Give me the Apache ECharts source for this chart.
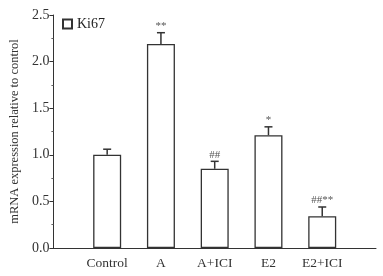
<!DOCTYPE html>
<html>
<head>
<meta charset="utf-8">
<script src="https://cdn.jsdelivr.net/npm/echarts@6/dist/echarts.min.js"></script>
<style>
html,body{margin:0;padding:0;background:#fff;}
#chart{width:383px;height:276px;}
</style>
</head>
<body>
<div id="chart"></div>
<script>
// categories (empty slots at each end keep the bars off the axis ends)
var categories=['','Control','A','A+ICI','E2','E2+ICI',''];
var ki67Values=[null,1.00,2.19,0.85,1.21,0.34,null];
var ki67Errors=[null,0.06,0.12,0.08,0.09,0.10,null];
var sigMarks=['','','**','##','*','##**',''];
var yTicks=[0,0.5,1.0,1.5,2.0,2.5];

var serif='"Liberation Serif","DejaVu Serif",serif';

var errData=[];
for(var i=0;i<categories.length;i++)
{
	if(ki67Values[i]!=null)
	{
		errData.push([i,ki67Values[i],ki67Errors[i],sigMarks[i]]);
	}
}

var myChart=echarts.init(document.getElementById('chart'));
var option={
	backgroundColor:'#ffffff',
	animation:false,
	grid:{left:47,right:7,top:15,bottom:28},
	legend:{
		data:['Ki67'],
		left:57,top:12,
		itemWidth:9,itemHeight:9,itemGap:6,
		icon:'rect',
		textStyle:{fontFamily:serif,fontSize:14,color:'#222'}
	},
	xAxis:{
		type:'category',
		data:categories,
		boundaryGap:false,
		axisLine:{lineStyle:{color:'#333',width:1}},
		axisTick:{show:false},
		axisLabel:{fontFamily:serif,fontSize:13.5,color:'#333',margin:8,interval:0}
	},
	yAxis:{
		type:'value',
		min:yTicks[0],max:yTicks[yTicks.length-1],interval:0.5,
		name:'mRNA expression relative to control',
		nameLocation:'middle',
		nameGap:21,
		nameTextStyle:{fontFamily:serif,fontSize:12.5,color:'#333'},
		axisLine:{show:true,lineStyle:{color:'#333',width:1}},
		axisTick:{show:true,length:4,lineStyle:{color:'#333'}},
		minorTick:{show:true,splitNumber:2,length:2,lineStyle:{color:'#666'}},
		splitLine:{show:false},
		axisLabel:{fontFamily:serif,fontSize:14,color:'#333',margin:4,
			formatter:function(v){return v.toFixed(1);}}
	},
	series:[
		{
			name:'Ki67',
			type:'bar',
			data:ki67Values,
			barWidth:28,
			itemStyle:{color:'#ffffff',borderColor:'#333',borderWidth:1.3}
		},
		{
			name:'err',
			type:'custom',
			data:errData,
			z:5,
			renderItem:function(params,api){
				var x=api.value(0),v=api.value(1),e=api.value(2);
				var mark=errData[params.dataIndex][3];
				var p0=api.coord([x,v]);
				var p1=api.coord([x,v+e]);
				var cap=4;
				return {
					type:'group',
					children:[
						{type:'line',shape:{x1:p0[0],y1:p0[1],x2:p1[0],y2:p1[1]},style:{stroke:'#333',lineWidth:1.5}},
						{type:'line',shape:{x1:p1[0]-cap,y1:p1[1],x2:p1[0]+cap,y2:p1[1]},style:{stroke:'#333',lineWidth:1.5}},
						{type:'text',x:p1[0],y:p1[1]-1,style:{text:mark,fill:'#555',font:'11px '+serif,textAlign:'center',textVerticalAlign:'bottom'}}
					]
				};
			}
		}
	]
};
myChart.setOption(option);
</script>
</body>
</html>
